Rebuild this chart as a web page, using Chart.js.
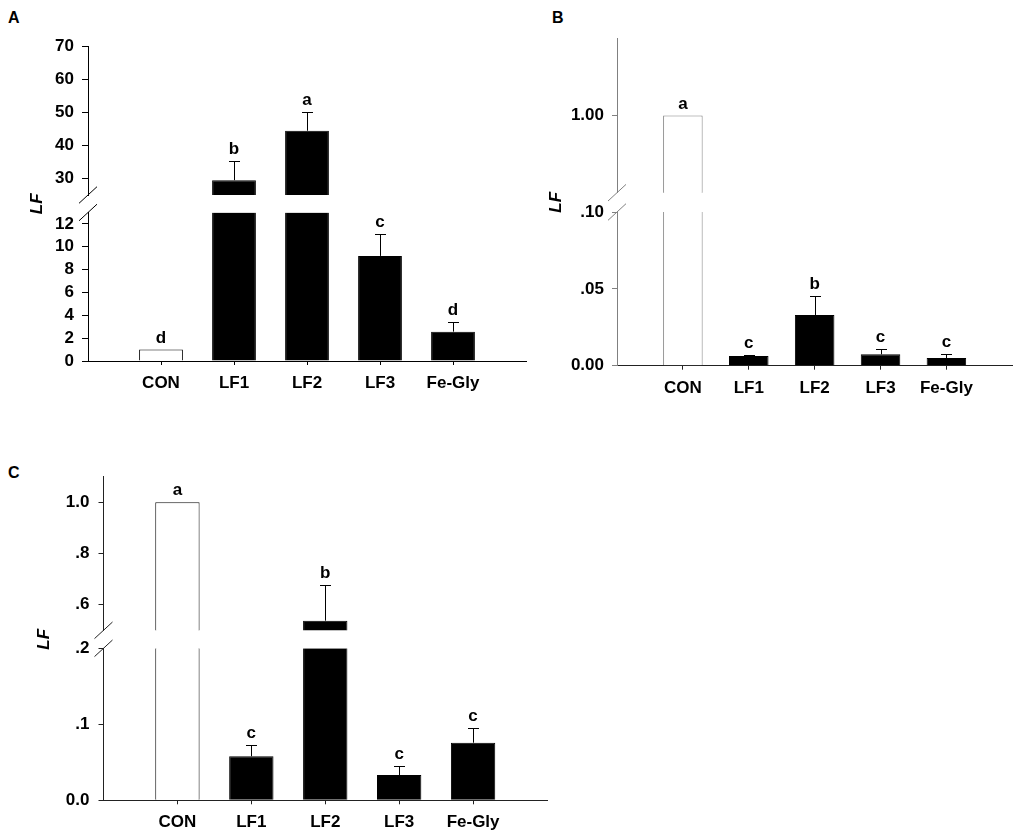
<!DOCTYPE html>
<html>
<head>
<meta charset="utf-8">
<script src="https://cdn.jsdelivr.net/npm/chart.js@4.4.1/dist/chart.umd.min.js"></script>
<style>
  body { margin: 0; background: #fff; width: 1021px; height: 840px; position: relative; overflow: hidden; }
  .panel { position: absolute; }
  .tag { position: absolute; font: bold 16px/16px "Liberation Sans", Arial, sans-serif; color: #000; }
</style>
</head>
<body>
<div class="tag" style="left:8px;top:10px">A</div>
<div class="tag" style="left:552px;top:10px">B</div>
<div class="tag" style="left:8px;top:465px">C</div>
<div class="panel" style="left:0;top:0;width:540px;height:395px"><canvas id="chartA"></canvas></div>
<div class="panel" style="left:520px;top:0;width:501px;height:400px"><canvas id="chartB"></canvas></div>
<div class="panel" style="left:0;top:440px;width:560px;height:400px"><canvas id="chartC"></canvas></div>
<script>
var categories = ['CON', 'LF1', 'LF2', 'LF3', 'Fe-Gly'];

// panel A
var meansA = [1.0, 29.5, 44.5, 9.2, 2.57];
var errorsA = [0, 5.8, 5.7, 1.95, 0.87];
var lettersA = ['d', 'b', 'a', 'c', 'd'];
var lowTicksA = [0, 2, 4, 6, 8, 10, 12];
var lowLabelsA = ['0', '2', '4', '6', '8', '10', '12'];
var highTicksA = [30, 40, 50, 60, 70];
var highLabelsA = ['30', '40', '50', '60', '70'];

// panel B
var meansB = [1.0, 0.0063, 0.033, 0.0074, 0.005];
var errorsB = [0, 0.0007, 0.0123, 0.0035, 0.0028];
var lettersB = ['a', 'c', 'b', 'c', 'c'];
var lowTicksB = [0, 0.05, 0.10];
var lowLabelsB = ['0.00', '.05', '.10'];
var highTicksB = [1.0];
var highLabelsB = ['1.00'];

// panel C
var meansC = [1.0, 0.058, 0.5375, 0.0333, 0.0758];
var errorsC = [0, 0.0153, 0.1405, 0.0122, 0.0197];
var lettersC = ['a', 'c', 'b', 'c', 'c'];
var lowTicksC = [0, 0.1, 0.2];
var lowLabelsC = ['0.0', '.1', '.2'];
var highTicksC = [0.6, 0.8, 1.0];
var highLabelsC = ['.6', '.8', '1.0'];

var FONT = '"Liberation Sans", Arial, sans-serif';
var fillColors = ['#ffffff', '#000000', '#000000', '#000000', '#000000'];

// error bars, letters and the // marks on the broken axis
var errorBarPlugin = {
  id: 'errbars',
  afterDatasetsDraw: function(chart, args, opts) {
    var ctx = chart.ctx;
    var xs = chart.scales.x, lo = chart.scales.yLow, hi = chart.scales.yHigh;
    ctx.save();
    ctx.strokeStyle = '#000';
    ctx.fillStyle = '#000';
    ctx.lineWidth = 1;
    ctx.font = 'bold 17px ' + FONT;
    ctx.textAlign = 'center';
    ctx.textBaseline = 'alphabetic';
    opts.means.forEach(function(m, i) {
      var s = m > opts.lowMax ? hi : lo;
      var px = xs.getPixelForValue(i + 1);
      var top = s.getPixelForValue(m + opts.errors[i]);
      if (opts.errors[i] > 0) {
        var y0 = s.getPixelForValue(m);
        var lx = Math.round(px) + 0.5, ly = Math.round(top) + 0.5;
        ctx.beginPath();
        ctx.moveTo(lx, y0);
        ctx.lineTo(lx, ly);
        ctx.moveTo(lx - 5.5, ly);
        ctx.lineTo(lx + 5.5, ly);
        ctx.stroke();
      }
      ctx.fillText(opts.letters[i], px, top - 7);
    });
    ctx.strokeStyle = opts.axisColor;
    var ax = chart.chartArea.left;
    [hi.bottom, lo.top].forEach(function(y) {
      ctx.beginPath();
      ctx.moveTo(ax - 9, y + 8.3);
      ctx.lineTo(ax + 9, y - 8.3);
      ctx.stroke();
    });
    ctx.restore();
  }
};

function yAxis(range, ticks, labels, weight, lay) {
  return {
    type: 'linear', position: 'left', stack: 'y', stackWeight: weight,
    min: range[0], max: range[1],
    afterBuildTicks: function(s) { s.ticks = ticks.map(function(v) { return {value: v}; }); },
    afterFit: function(s) { s.width = lay.yWidth; },
    ticks: {
      callback: function(v, i) { return labels[i]; }, autoSkip: false,
      font: {family: FONT, size: 17, weight: 'bold'}, color: '#000', padding: lay.yPad
    },
    grid: {drawOnChartArea: false, drawTicks: true, tickLength: lay.yTick, color: lay.axisColor},
    border: {display: true, color: lay.axisColor, width: 1}
  };
}

function makeChart(id, means, errors, letters, lowTicks, lowLabels, highTicks, highLabels, lay) {
  var lowMax = lay.lowRange[1];
  return new Chart(id, {
    type: 'bar',
    plugins: [errorBarPlugin],
    data: {
      datasets: [
        {
          yAxisID: 'yLow', grouped: false, barPercentage: 0.6, categoryPercentage: 1,
          data: means.map(function(v, i) { return {x: i + 1, y: Math.min(v, lowMax)}; }),
          backgroundColor: fillColors,
          borderColor: fillColors.map(function(c, i) { return i === 0 ? lay.conColor : '#000'; }),
          borderWidth: function(c) {
            return {left: 1, right: 1, bottom: 0, top: means[c.dataIndex] > lowMax ? 0 : 1};
          }
        },
        {
          yAxisID: 'yHigh', grouped: false, barPercentage: 0.6, categoryPercentage: 1,
          data: means.map(function(v, i) { return {x: i + 1, y: v > lowMax ? v : null}; }),
          backgroundColor: fillColors,
          borderColor: fillColors.map(function(c, i) { return i === 0 ? lay.conColor : '#000'; }),
          borderWidth: {left: 1, right: 1, bottom: 0, top: 1}
        }
      ]
    },
    options: {
      responsive: true,
      maintainAspectRatio: false,
      animation: false,
      layout: {padding: lay.padding},
      plugins: {
        legend: {display: false},
        tooltip: {enabled: false},
        errbars: {means: means, errors: errors, letters: letters, lowMax: lowMax, axisColor: lay.axisColor}
      },
      scales: {
        x: {
          type: 'linear', min: 0, max: 6, offset: false,
          afterBuildTicks: function(s) { s.ticks = categories.map(function(c, i) { return {value: i + 1}; }); },
          afterFit: function(s) { s.height = lay.xHeight; },
          ticks: {
            callback: function(v) { return categories[v - 1]; },
            font: {family: FONT, size: 17, weight: 'bold'}, color: '#000',
            padding: 8, maxRotation: 0, autoSkip: false
          },
          grid: {drawOnChartArea: false, drawTicks: true, tickLength: 4, color: lay.xColor, offset: false},
          border: {display: true, color: lay.xColor, width: 1}
        },
        // stacked left axes: listed bottom first
        yLow: yAxis(lay.lowRange, lowTicks, lowLabels, lay.weights[2], lay),
        yGap: {
          type: 'linear', position: 'left', stack: 'y', stackWeight: lay.weights[1],
          afterFit: function(s) { s.width = lay.yWidth; },
          ticks: {display: false},
          grid: {display: false},
          border: {display: false},
          title: {
            display: true, text: 'LF', color: '#000',
            font: {family: FONT, size: 17, weight: 'bold', style: 'italic'},
            padding: {top: lay.titlePad, bottom: 0}
          }
        },
        yHigh: yAxis(lay.highRange, highTicks, highLabels, lay.weights[0], lay)
      }
    }
  });
}

makeChart('chartA', meansA, errorsA, lettersA, lowTicksA, lowLabelsA, highTicksA, highLabelsA, {
  lowRange: [0, 13], highRange: [25, 70], weights: [148.3, 17.5, 148.5],
  padding: {left: 0, top: 46.7, right: 14, bottom: 0},
  yWidth: 88, xHeight: 34, yTick: 6, yPad: 8, titlePad: 27,
  axisColor: '#000', xColor: '#000', conColor: '#000'
});

makeChart('chartB', meansB, errorsB, lettersB, lowTicksB, lowLabelsB, highTicksB, highLabelsB, {
  lowRange: [0, 0.1], highRange: [0.5, 1.5], weights: [154.4, 19.3, 153.7],
  padding: {left: 0, top: 38.3, right: 8.7, bottom: 0},
  yWidth: 97, xHeight: 34.3, yTick: 5, yPad: 8, titlePad: 26,
  axisColor: '#808080', xColor: '#222', conColor: '#808080'
});

makeChart('chartC', meansC, errorsC, lettersC, lowTicksC, lowLabelsC, highTicksC, highLabelsC, {
  lowRange: [0, 0.2], highRange: [0.5, 1.1], weights: [153.6, 18, 152],
  padding: {left: 0, top: 36.7, right: 13, bottom: 0},
  yWidth: 103.5, xHeight: 39.7, yTick: 5, yPad: 9, titlePad: 34,
  axisColor: '#222', xColor: '#222', conColor: '#111'
});
</script>
</body>
</html>
